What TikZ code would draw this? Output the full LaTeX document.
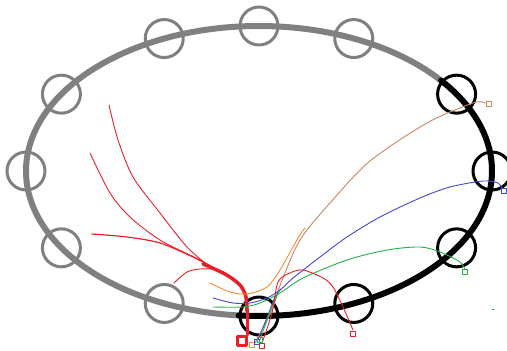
\documentclass[tikz,border=0pt]{standalone}
\definecolor{ringgray}{RGB}{128,128,128}
\definecolor{trkred}{RGB}{235,30,40}
\definecolor{trkorange}{RGB}{250,140,50}
\definecolor{trkbrown}{RGB}{200,135,95}
\definecolor{trkblue}{RGB}{70,70,215}
\definecolor{trkgreen}{RGB}{40,175,75}
\tikzset{
  station/.style={circle,draw,line width=3pt,minimum size=38pt,inner sep=0pt},
  trk/.style={line width=0.9pt},
  hit/.style={draw,line width=0.8pt,minimum size=4.5pt,inner sep=0pt}
}
\begin{document}
\begin{tikzpicture}[x=1pt,y=1pt,line join=round,line cap=round]
    \useasboundingbox (0,0) rectangle (507,351);
    % ring
    \draw[ringgray,line width=6pt] ({259+233*cos(38.6)},{180+145*sin(38.6)}) arc[start angle=38.6,end angle=265,x radius=233,y radius=145];
    \draw[black,line width=6pt] ({259+233*cos(-95)},{180+145*sin(-95)}) arc[start angle=-95,end angle=38.6,x radius=233,y radius=145];
    \foreach \a in {66,90,114,148,180,212,246}
      \node[station,ringgray] (st\a) at ({259+233*cos(\a)},{180+145*sin(\a)}) {};
    \foreach \a in {270,294,328,0,32}
      \node[station,black] (st\a) at ({259+233*cos(\a)},{180+145*sin(\a)}) {};
    % left red tracks
    \draw[trk,trkred] plot[smooth] coordinates {(109,246) (118,211) (133,174) (160,138) (187,104) (210,84)};
    \draw[trk,trkred] plot[smooth] coordinates {(90,198) (110,158) (130,134) (160,111) (200,91) (212,84)};
    \draw[trk,trkred,line width=1.2pt] plot[smooth] coordinates {(92,117) (127,114) (160,108) (193,94) (212,84)};
    \draw[trk,trkred] plot[smooth] coordinates {(174,68) (187,79) (200,82) (212,82)};
    \draw[trkred,line width=3.5pt] plot[smooth] coordinates {(203,87) (225,77) (240,66) (246,54) (247,40)};
    \draw[trkred,line width=3pt] (247,42) -- (247,16);
    \node[draw,trkred,line width=3.5pt,minimum size=9pt,inner sep=0pt] (vtx) at (242,10) {};
    % tracks to the right
    \draw[trk,trkorange] plot[smooth] coordinates {(210,68) (230,59) (247,57) (267,64) (280,81) (298,113) (305,123)};
    \draw[trk,trkbrown] plot[smooth] coordinates {(255,8) (272,41) (281,68) (300,111) (330,148) (370,190) (427,228) (473,248) (485,248)};
    \draw[trk,trkblue] plot[smooth] coordinates {(213,53) (233,48) (250,48) (267,53) (280,61) (293,73) (320,94) (347,114) (380,134) (420,153) (450,164) (483,170) (498,168) (502,163)};
    \draw[trk,trkblue] plot[smooth] coordinates {(257,9) (268,36) (275,54) (281,62)};
    \draw[trk,trkgreen] plot[smooth] coordinates {(213,44) (243,44) (260,48) (280,58) (303,73) (347,91) (387,101) (420,104) (440,99) (460,89) (465,81)};
    \draw[trk,trkgreen] plot[smooth] coordinates {(260,11) (270,39) (279,60)};
    \draw[trk,trkred] plot[smooth] coordinates {(262,8) (272,38) (278,69) (290,78) (303,81) (323,73) (333,64) (343,44) (353,21)};
    \draw[trkgreen,line width=1pt] (492,41) -- (494,41);
    % hits
    \node[hit,trkorange] (h1) at (252,6) {};
    \node[hit,trkblue] (h2) at (257,9) {};
    \node[hit,trkgreen] (h3) at (260,11) {};
    \node[hit,trkred] (h4) at (262,5) {};
    \node[hit,trkbrown] (h5) at (489,247) {};
    \node[hit,trkblue] (h6) at (504,160) {};
    \node[hit,trkgreen] (h7) at (465,79) {};
    \node[hit,trkred] (h8) at (353,17) {};
\end{tikzpicture}
\end{document}
